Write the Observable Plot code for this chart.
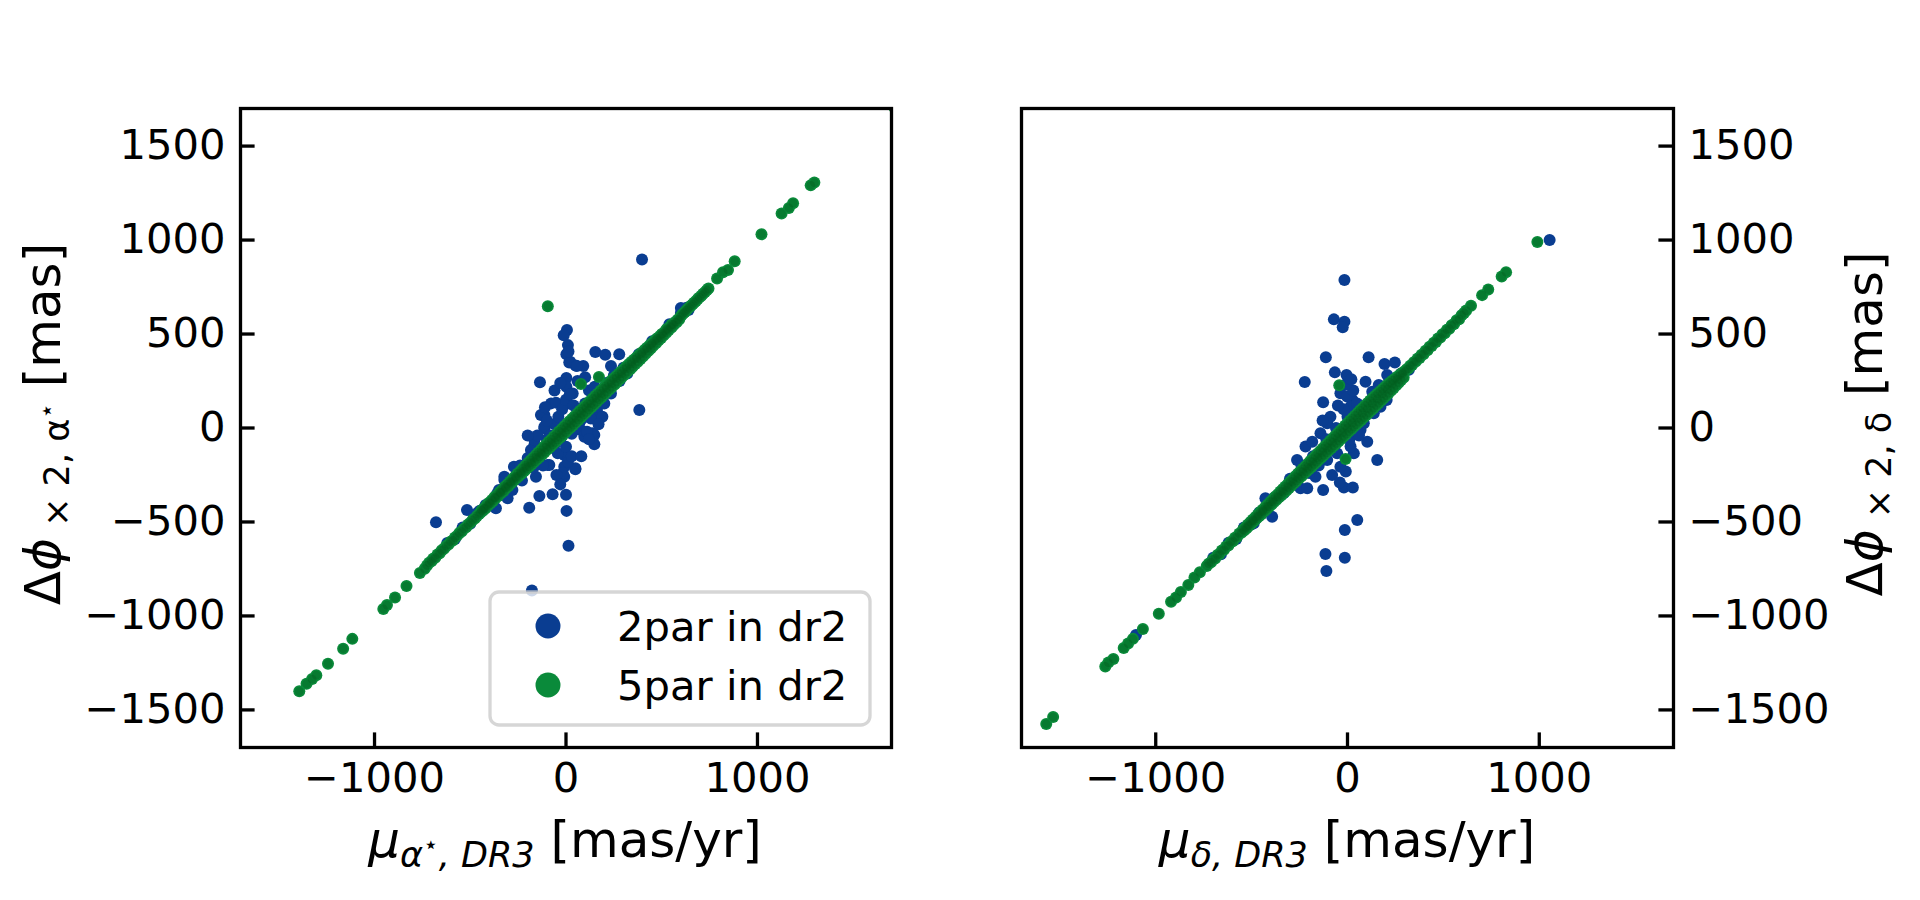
<!DOCTYPE html>
<html>
<head>
<meta charset="utf-8">
<script src="https://cdn.jsdelivr.net/npm/d3@7"></script>
<script src="https://cdn.jsdelivr.net/npm/@observablehq/plot@0.6"></script>
<style>
  html, body { margin: 0; padding: 0; background: #ffffff; }
  #chart { position: relative; width: 1920px; height: 900px; background: #ffffff; overflow: hidden; }
  #chart svg { position: absolute; top: 0; overflow: visible; }
</style>
</head>
<body>
<div id="chart"></div>
<script>
// ---------------- data ----------------
const seriesNames = ["2par in dr2", "5par in dr2"];
const xTicks = [-1000, 0, 1000];
const yTicks = [-1500, -1000, -500, 0, 500, 1000, 1500];

// left panel: x = mu_alpha*, y = dphi alpha*
const left2par = [
  [397,896],[-679,-502],[-517,-436],[13,-627],[-178,-865],[383,96],[-136,243],
  [5,521],[-12,493],[10,441],[2,393],[17,349],[50,333],[90,330],[153,404],[205,390],[278,393],
  [2,266],[2,220],[235,330],[22,352],[57,330],[13,407],
  [-192,-424],[-139,-362],[-70,-353],[0,-355],[3,-441],
  [49,-220],[148,-87],[148,-37],[-9,-259],[-9,-206],[-9,-144],[-157,-259],[-87,-197],
  [-113,-2],[-165,-90],[-113,69],[-305,-374],[-366,-427],[-322,-277],[96,-46],[78,43],
  [165,78],[-78,131],[9,131],
  [139,-28],[49,-214],[-17,-241],[-322,-259],[-272,-206],[-96,-197],[-131,69],[-113,7],
  [-52,135],[35,184],[165,113],[183,167],[235,184],[78,-11],[96,60],[-183,-117],[-165,-64],[-43,-135],
  [-60,20],[-40,60],[-20,100],[0,150],[20,180],[40,120],[60,90],[100,130],[120,200],
  [-80,-40],[-100,-60],[-60,-90],[-30,-60],[0,-100],[30,-30],[50,0],[70,30],
  [-140,-150],[-120,-200],[-50,-250],[-30,-300],[10,-180],[30,-150],[110,-20],[130,50],
  [200,130],[210,240],[250,280],[280,250],[300,320],[320,290],[-200,-160],[-240,-200],
  [-230,-280],[-280,-330],[-350,-330],[-380,-390],[-420,-410],[-450,-440],[-480,-470],
  [-100,40],[-150,-40],[-170,-210],[-60,200],[-30,240],[60,250],[100,270],[150,220],
  [190,60],[170,20],[120,-60],[80,-150],[-110,110],[-200,-40],
  [-620,-612],[-580,-590],[-540,-530],[-500,-510],[-460,-450],[-400,-412],[-360,-350],
  [300,310],[340,330],[380,392],[420,410],[450,462],[500,490],[540,552],[548,539],[580,570],
  [600,638],[600,612],[630,640],[640,628]
];
const left5par = [
  [-1393,-1401],[-1355,-1361],[-1326,-1336],[-1304,-1315],[-1243,-1254],[-1164,-1174],[-1116,-1122],
  [-954,-963],[-935,-942],[-893,-902],[-833,-841],[-763,-771],[-738,-749],
  [-726,-731],[-715,-717],[-703,-709],[-694,-696],[-683,-690],[-671,-673],[-660,-667],[-649,-651],
  [-637,-643],[-626,-628],[-614,-620],[-603,-605],[-591,-598],[-580,-583],[-569,-574],[-557,-559],
  [-545,-551],[-534,-536],[-522,-528],[-511,-514],[-499,-504],[-488,-490],[-476,-481],[-465,-468],[-454,-458],
  [-447,-451],[-441,-437],[-434,-440],[-427,-425],[-421,-428],[-414,-410],[-408,-414],[-400,-396],
  [-394,-401],[-387,-383],[-381,-388],[-373,-367],[-367,-373],[-360,-356],[-354,-362],[-346,-340],
  [-340,-347],[-333,-328],[-327,-336],[-319,-311],[-313,-320],[-306,-299],[-300,-309],[-292,-285],
  [-286,-294],[-279,-270],[-273,-281],[-265,-257],[-259,-268],[-252,-242],[-246,-255],[-238,-229],
  [-232,-243],[-225,-214],[-219,-230],[-211,-199],[-205,-217],[-198,-186],[-192,-205],[-184,-171],
  [-178,-192],[-171,-158],[-165,-180],[-157,-143],[-151,-166],[-144,-130],[-138,-154],[-130,-116],
  [-124,-141],[-117,-101],[-111,-128],[-103,-88],[-97,-115],[-90,-73],[-84,-102],[-76,-60],
  [-70,-89],[-63,-45],[-57,-76],[-49,-32],[-43,-63],[-36,-18],[-30,-50],[-22,-5],[-16,-37],
  [-9,9],[-3,-24],[5,22],[11,-10],[18,36],[24,3],[32,49],[38,16],[45,63],[51,29],[59,76],
  [65,43],[72,90],[78,56],[86,103],[92,70],[99,117],[105,83],[113,130],[119,97],[126,144],
  [132,110],[140,157],[146,124],[153,171],[159,137],[167,184],[173,151],[180,198],[186,164],
  [194,211],[200,178],[207,224],[213,191],[221,237],[227,205],[234,250],[240,218],[248,263],
  [254,232],[261,276],[267,245],[275,289],[281,259],[288,301],[294,272],[302,314],[308,286],
  [315,327],[321,299],[329,340],[335,313],[342,352],[348,326],[356,365],[362,340],[369,377],
  [375,353],[383,390],[389,367],[396,402],[402,381],[410,415],[416,395],[423,427],[429,409],
  [437,440],[443,423],[450,452],[456,437],[464,465],[470,451],[477,477],[483,465],[491,490],
  [497,479],[504,502],[510,493],[518,515],[524,507],[531,527],[537,521],[545,540],[551,535],
  [558,552],[564,549],[572,565],[578,563],[585,578],[591,577],[598,592],
  [-430,-432],[-402,-404],[-371,-370],[-342,-343],[-315,-316],[-288,-288],[-262,-261],[-236,-237],
  [-210,-208],[-183,-184],[-157,-156],[-131,-132],[-104,-103],[-78,-79],[-52,-51],[-25,-26],
  [1,2],[27,26],[53,54],[80,79],[106,107],[132,131],[158,159],[185,184],[211,212],[237,236],
  [263,264],[290,289],[316,317],[342,341],[368,369],[395,394],[421,422],[447,446],[473,474],
  [500,499],[526,527],[552,551],
  [606,602],[613,611],[621,617],[628,626],[636,634],[644,642],[653,650],[661,659],[670,668],
  [679,676],[688,686],[697,695],[707,704],[716,714],[726,723],[735,733],[744,742],
  [789,795],[820,829],[846,841],[881,887],[1021,1031],[1126,1141],[1164,1171],[1186,1196],
  [1278,1291],[1297,1306],
  [-95,648],[78,234],[172,271],[1715,1705]
];

// right panel: x = mu_delta, y = dphi delta
const right2par = [
  [1054,1000],[-16,787],[-71,578],[-16,566],[-25,536],[-113,376],[110,376],[193,340],[247,349],
  [-66,296],[-5,282],[-223,245],[94,246],[-127,137],[207,282],[204,149],[155,-170],[103,-73],
  [-9,-232],[-19,-316],[28,-316],[-127,-330],[-393,-472],[51,-489],[-14,-543],[-115,-670],
  [-14,-690],[-110,-761],
  [-37,185],[26,149],[-2,167],[16,113],[-89,60],[-106,25],[-141,-28],[-219,-99],[-184,-73],
  [-263,-170],[-254,-241],[-245,-321],[-210,-321],[-167,-259],[33,-135],[16,-99],[68,-11],
  [85,25],[137,78],[172,113],[129,193],[163,229],[-89,-99],[-106,-170],[-37,-206],[-54,-135],
  [-333,-347],[-489,-507],[-428,-374],
  [-20,100],[0,60],[-50,120],[30,200],[50,130],[-60,0],[-30,-40],[10,-60],[-70,-60],
  [-120,-120],[-150,-200],[-200,-240],[-180,-150],[-80,-250],[60,40],[100,80],[120,140],
  [-10,230],[20,260],[-40,-290],[-300,-300],[-350,-360],[-300,-270],[-240,-200],[40,0],
  [60,-40],[-110,-60],[-130,40],
  [-700,-690],[-660,-672],[-620,-610],[-580,-590],[-540,-530],[-500,-512],[-460,-450],
  [-420,-432],[-380,-370],[200,212],[240,232],[280,290],[320,310],[-1103,-1101]
];
const right5par = [
  [-1571,-1575],[-1535,-1538],[-1263,-1269],[-1247,-1248],[-1221,-1229],[-1167,-1171],
  [-1144,-1147],[-1119,-1122],[-1067,-1070],[-984,-988],[-920,-924],[-894,-902],[-869,-872],
  [-830,-835],[-798,-795],[-770,-768],[-734,-734],
  [-724,-722],[-712,-715],[-701,-699],[-690,-694],[-678,-676],[-667,-671],[-655,-652],[-644,-648],
  [-633,-630],[-621,-625],[-610,-607],[-598,-602],[-587,-584],[-576,-580],[-564,-561],[-553,-557],
  [-545,-541],[-539,-546],[-532,-528],[-526,-533],[-519,-514],[-513,-520],[-506,-500],[-500,-508],
  [-493,-487],[-487,-495],[-480,-473],[-474,-482],[-467,-460],[-461,-469],[-454,-446],[-448,-457],
  [-441,-433],[-435,-444],[-428,-419],[-422,-432],[-415,-406],[-409,-419],[-402,-392],[-396,-407],
  [-389,-379],[-383,-394],[-376,-365],[-370,-382],[-363,-352],[-357,-369],[-350,-338],[-344,-357],
  [-337,-325],[-331,-344],[-324,-311],[-318,-332],[-311,-298],[-305,-319],[-298,-284],[-292,-307],
  [-285,-271],[-279,-294],[-272,-257],[-266,-282],[-259,-244],[-253,-269],[-246,-230],[-240,-257],
  [-233,-217],[-227,-244],[-220,-203],[-214,-232],[-207,-190],[-201,-219],[-194,-176],[-188,-207],
  [-181,-163],[-175,-194],[-168,-149],[-162,-182],[-155,-136],[-149,-169],[-142,-122],[-136,-157],
  [-129,-109],[-123,-144],[-116,-95],[-110,-132],[-103,-82],[-97,-119],[-90,-68],[-84,-107],
  [-77,-55],[-71,-94],[-64,-41],[-58,-82],[-51,-28],[-45,-69],[-38,-14],[-32,-57],[-25,-1],
  [-19,-44],[-12,13],[-6,-32],[1,26],[7,-19],[14,40],[20,-7],[27,53],[33,6],[40,67],[46,18],
  [53,80],[59,31],[66,94],[72,43],[79,107],[85,56],[92,120],[98,69],[105,133],[111,81],
  [118,146],[124,94],[131,159],[137,107],[144,171],[150,120],[157,183],[163,133],[170,195],
  [176,146],[183,207],[189,159],[196,219],[202,172],[209,231],[215,186],[222,242],[228,199],
  [235,253],[241,213],[248,264],[254,227],[261,274],[267,241],[274,284],[280,255],[287,294],
  [293,269],[300,303],
  [-520,-522],[-494,-493],[-468,-469],[-442,-441],[-416,-417],[-390,-389],[-364,-365],[-338,-337],
  [-312,-313],[-286,-285],[-260,-261],[-234,-233],[-208,-209],[-182,-181],[-156,-157],[-130,-129],
  [-104,-105],[-78,-77],[-52,-53],[-26,-25],[0,-1],[26,27],[52,51],[78,79],[104,103],[130,131],
  [156,155],[182,183],[208,207],[234,235],[260,259],[286,287],
  [309,312],[318,316],[327,331],[337,335],[346,350],[356,354],[366,370],[376,373],[386,390],
  [396,393],[407,411],[417,414],[428,432],[439,436],[450,454],[461,458],[472,476],[484,481],
  [495,499],[507,504],[519,523],[531,528],[543,547],[556,553],[569,573],[582,579],[595,600],
  [608,612],[619,625],[644,650],[702,707],[734,737],[804,806],[827,829],[990,990],
  [-43,227],[-10,-165]
];

// ---------------- style ----------------
const BLUE = "#0a3d91";
const GREEN = "#0a8a3a";
const DARKGREEN = "#045a1e";
const FONT = "DejaVu Sans";
const W = 960, H = 900, MT = 108, MB = 153;
const TICK_FS = 41.7, LABEL_FS = 50, SUB_FS = 35, SUP_FS = 25;
const fmt = d => d < 0 ? "\u2212" + Math.abs(d) : String(d);

function panel(blue, green, side) {
  const ml = side === "left" ? 240 : 61;
  const mr = side === "left" ? 69 : 247;
  const pw = W - ml - mr, ph = H - MT - MB;
  const tickLen = 14.6, lw = 3.3;
  return Plot.plot({
    width: W, height: H,
    marginLeft: ml, marginRight: mr, marginTop: MT, marginBottom: MB,
    x: {domain: [-1700, 1700]},
    y: {domain: [-1700, 1700]},
    style: {fontFamily: FONT, background: "white", overflow: "visible"},
    marks: [
      Plot.dot(blue, {x: d => d[0], y: d => d[1], r: 6, fill: BLUE, clip: true}),
      Plot.dot(green, {x: d => d[0], y: d => d[1], r: 6, fill: GREEN, clip: true}),
      Plot.dot(green, {x: d => d[0], y: d => d[1], r: 4.4, fill: DARKGREEN, fillOpacity: 0.34, clip: true}),
      Plot.tickX(xTicks, {x: d => d, insetTop: ph - tickLen, stroke: "black", strokeWidth: lw}),
      Plot.tickY(yTicks, side === "left"
        ? {y: d => d, insetRight: pw - tickLen, stroke: "black", strokeWidth: lw}
        : {y: d => d, insetLeft: pw - tickLen, stroke: "black", strokeWidth: lw}),
      Plot.axisX(xTicks, {tickSize: 0, tickPadding: 15, fontSize: TICK_FS, tickFormat: fmt, label: null}),
      Plot.axisY(yTicks, {anchor: side, tickSize: 0, tickPadding: 15, fontSize: TICK_FS, tickFormat: fmt, label: null}),
      Plot.frame({stroke: "black", strokeWidth: lw})
    ]
  });
}

function addLabel(svg, x, y, rotate, parts) {
  const t = d3.select(svg).append("text")
    .attr("transform", `translate(${x},${y})` + (rotate ? ` rotate(${rotate})` : ""))
    .attr("text-anchor", "middle")
    .attr("font-family", FONT)
    .attr("fill", "black");
  parts.forEach(p => {
    t.append("tspan")
      .attr("font-size", p.fs || LABEL_FS)
      .attr("font-style", p.it ? "italic" : "normal")
      .attr("dy", p.dy || 0)
      .text(p.t);
  });
}

const root = document.getElementById("chart");

const leftSvg = panel(left2par, left5par, "left");
leftSvg.style.left = "0px";
root.appendChild(leftSvg);

const rightSvg = panel(right2par, right5par, "right");
rightSvg.style.left = "960px";
root.appendChild(rightSvg);

// axis labels
addLabel(leftSvg, 565, 857, 0, [
  {t: "\u03bc", it: true},
  {t: "\u03b1", it: true, fs: SUB_FS, dy: 10},
  {t: "\u22c6", fs: SUP_FS, dy: -14},
  {t: ", DR3", it: true, fs: SUB_FS, dy: 14},
  {t: " [mas/yr]", dy: -10}
]);
addLabel(leftSvg, 60, 424, -90, [
  {t: "\u0394"},
  {t: "\u03d5", it: true},
  {t: " \u00d7 2, \u03b1", fs: SUB_FS, dy: 9},
  {t: "\u22c6", fs: SUP_FS, dy: -14},
  {t: " [mas]", dy: 5}
]);
addLabel(rightSvg, 387, 857, 0, [
  {t: "\u03bc", it: true},
  {t: "\u03b4, DR3", it: true, fs: SUB_FS, dy: 10},
  {t: " [mas/yr]", dy: -10}
]);
addLabel(rightSvg, 922, 424, -90, [
  {t: "\u0394"},
  {t: "\u03d5", it: true},
  {t: " \u00d7 2, \u03b4", fs: SUB_FS, dy: 9},
  {t: " [mas]", dy: -9}
]);

// legend (left panel)
const colors = [BLUE, GREEN];
const lg = d3.select(leftSvg).append("g");
lg.append("rect")
  .attr("x", 490).attr("y", 592).attr("width", 380).attr("height", 133)
  .attr("rx", 9).attr("ry", 9)
  .attr("fill", "white").attr("fill-opacity", 0.8)
  .attr("stroke", "#cccccc").attr("stroke-opacity", 0.8).attr("stroke-width", 3.3);
seriesNames.forEach((name, i) => {
  const cy = 626 + 59 * i;
  lg.append("circle").attr("cx", 548).attr("cy", cy).attr("r", 12.5).attr("fill", colors[i]);
  lg.append("text").attr("x", 617).attr("y", cy).attr("dy", "0.36em")
    .attr("text-anchor", "start")
    .attr("font-family", FONT).attr("font-size", TICK_FS).attr("fill", "black")
    .text(name);
});
</script>
</body>
</html>
